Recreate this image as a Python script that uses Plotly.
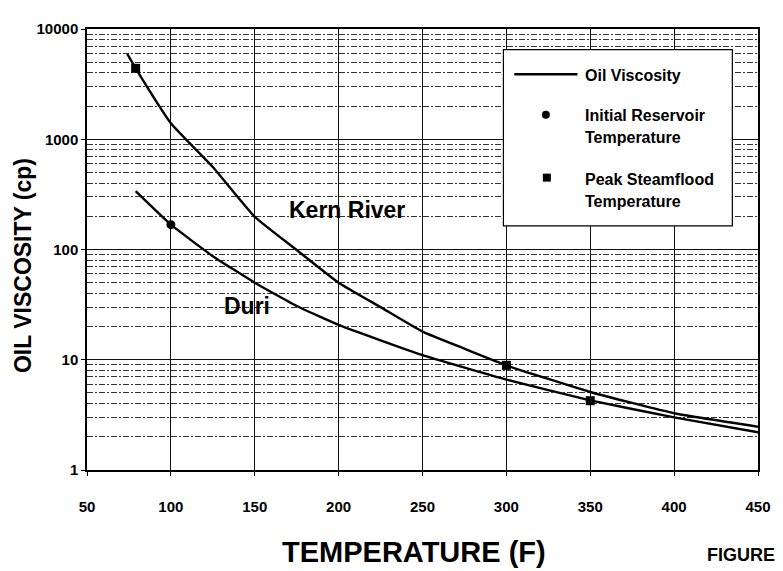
import plotly.graph_objects as go
import math

# ---- data ----
kern_temp = [74, 79, 100, 125, 150, 175, 200, 225, 250, 275, 300, 350, 400, 450]
kern_visc = [5940, 4400, 1400, 560, 198, 99, 50, 30, 18, 12.6, 8.9, 5.1, 3.27, 2.47]

duri_temp = [79, 100, 125, 150, 175, 200, 225, 250, 300, 350, 400, 450]
duri_visc = [338, 168, 87, 50, 30.7, 20.7, 15, 11, 6.6, 4.28, 3.0, 2.2]

circle_temp = [100]
circle_visc = [168]
square_temp = [79, 300, 350]
square_visc = [4400, 8.9, 4.25]

x_ticks = [50, 100, 150, 200, 250, 300, 350, 400, 450]
y_ticks = [1, 10, 100, 1000, 10000]
y_ticktext = ["1", "10", "100", "1000", "10000"]

FONT = "Liberation Sans, Arial, sans-serif"

fig = go.Figure()
fig.add_trace(go.Scatter(x=kern_temp, y=kern_visc, mode="lines", name="Kern River",
                         line=dict(color="black", width=2.4, shape="spline", smoothing=0.4),
                         showlegend=False))
fig.add_trace(go.Scatter(x=duri_temp, y=duri_visc, mode="lines", name="Duri",
                         line=dict(color="black", width=2.4, shape="spline", smoothing=0.4),
                         showlegend=False))
fig.add_trace(go.Scatter(x=circle_temp, y=circle_visc, mode="markers", name="Initial Reservoir Temperature",
                         marker=dict(symbol="circle", size=9, color="black"), showlegend=False))
fig.add_trace(go.Scatter(x=square_temp, y=square_visc, mode="markers", name="Peak Steamflood Temperature",
                         marker=dict(symbol="square", size=9, color="black"), showlegend=False))

fig.update_xaxes(range=[50, 450], tickvals=x_ticks, ticks="outside", ticklen=4, tickcolor="black",
                 showgrid=True, gridcolor="#111", gridwidth=1,
                 showline=True, linecolor="black", linewidth=1.5, mirror=True,
                 tickfont=dict(family=FONT, size=15, color="black", weight="bold"),
                 ticklabelstandoff=18, zeroline=False)
fig.update_yaxes(type="log", range=[0, 4], tickvals=y_ticks, ticktext=y_ticktext,
                 ticks="outside", ticklen=4, tickcolor="black",
                 showgrid=True, gridcolor="#111", gridwidth=1.2,
                 minor=dict(dtick="D1", showgrid=True, gridcolor="#333", gridwidth=1,
                            griddash="6px,2px,2px,2px", ticks=""),
                 showline=True, linecolor="black", linewidth=1.5, mirror=True,
                 tickfont=dict(family=FONT, size=15, color="black", weight="bold"),
                 zeroline=False)

# the page body adds an 8 px offset; reference pixel coords are mapped accordingly
OFF = 8
W, H = 783 - OFF, 571 - OFF
L, T = 87 - OFF, 22 - OFF
R = W - (767 - OFF)
B = H - (470 - OFF)
pw, ph = W - L - R, H - T - B


def px(xp):
    return (xp - OFF - L) / pw


def py(yp):
    return (H - B - (yp - OFF)) / ph


shapes = []
annos = []
# legend box
shapes.append(dict(type="rect", xref="paper", yref="paper", x0=px(509), x1=px(741), y0=py(222), y1=py(43),
                   line=dict(color="black", width=1.2), fillcolor="white", layer="above"))
shapes.append(dict(type="line", xref="paper", yref="paper", x0=px(520), x1=px(584), y0=py(68), y1=py(68),
                   line=dict(color="black", width=2.4), layer="above"))
shapes.append(dict(type="circle", xref="paper", yref="paper", xsizemode="pixel", ysizemode="pixel",
                   xanchor=px(552), yanchor=py(109), x0=-4, x1=4, y0=-4, y1=4,
                   fillcolor="black", line=dict(color="black", width=0), layer="above"))
shapes.append(dict(type="rect", xref="paper", yref="paper", xsizemode="pixel", ysizemode="pixel",
                   xanchor=px(553), yanchor=py(173), x0=-4, x1=4, y0=-4, y1=4,
                   fillcolor="black", line=dict(color="black", width=0), layer="above"))


def ann(text, xp, yp, size, **kw):
    d = dict(text=text, xref="paper", yref="paper", x=px(xp), y=py(yp), showarrow=False,
             xanchor="left", yanchor="middle", font=dict(family=FONT, size=size, color="black"))
    d.update(kw)
    annos.append(d)


ann("<b>Oil Viscosity</b>", 590, 69, 16)
ann("<b>Initial Reservoir</b>", 590, 110, 16)
ann("<b>Temperature</b>", 590, 132, 16)
ann("<b>Peak Steamflood</b>", 590, 175, 16)
ann("<b>Temperature</b>", 590, 197, 16)

# curve labels in data coordinates
annos.append(dict(text="<b>Kern River</b>", x=169.5, y=math.log10(227), xref="x", yref="y", showarrow=False,
                  xanchor="left", yanchor="middle", font=dict(family=FONT, size=23, color="black")))
annos.append(dict(text="<b>Duri</b>", x=130.5, y=math.log10(31), xref="x", yref="y", showarrow=False,
                  xanchor="left", yanchor="middle", font=dict(family=FONT, size=23, color="black")))

# axis titles
ann("<b>OIL VISCOSITY (cp)</b>", 22, 262, 23, xanchor="center", textangle=-90)
ann("<b>TEMPERATURE (F)</b>", 418, 553, 29, xanchor="center")
ann("<b>FIGURE</b>", 713, 556, 18)

fig.update_layout(width=W, height=H, margin=dict(l=L, r=R, t=T, b=B),
                  plot_bgcolor="white", paper_bgcolor="white",
                  shapes=shapes, annotations=annos, showlegend=False)

fig.write_html("out.html")
